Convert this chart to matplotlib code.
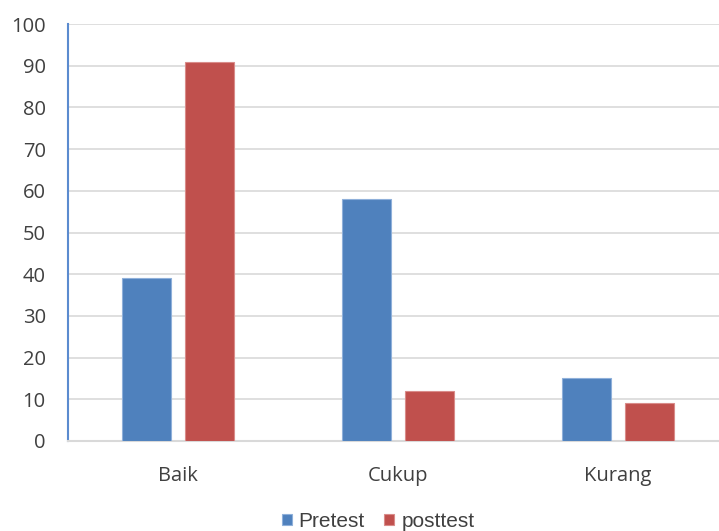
import matplotlib
matplotlib.use("Agg")
import matplotlib.pyplot as plt
import numpy as np

categories = ["Baik", "Cukup", "Kurang"]
pretest = [39, 58, 15]
posttest = [91, 12, 9]
yticks = [0, 10, 20, 30, 40, 50, 60, 70, 80, 90, 100]

W, H = 719, 531
fig = plt.figure(figsize=(W/100, H/100), dpi=100)
x0, x1 = 68, 728
ytop, ybot = 24, 441
ax = fig.add_axes([x0/W, 1 - ybot/H, (x1-x0)/W, (ybot-ytop)/H])

x = np.arange(len(categories))
bw = 0.223
off = 0.143
ax.bar(x - off, pretest, bw, color="#4F81BD", edgecolor="#8FB0DA", linewidth=0.8, label="Pretest", zorder=3)
ax.bar(x + off, posttest, bw, color="#C0504D", edgecolor="#D98C8A", linewidth=0.8, label="posttest", zorder=3)

ax.set_xlim(-0.5, 2.5)
ax.set_ylim(0, 100)
ax.set_yticks(yticks)
ax.set_xticks(x)
ax.set_xticklabels(categories, fontfamily="Open Sans", fontsize=14.5, color="#404040")
for lab in ax.get_yticklabels():
    lab.set_fontfamily("Open Sans")
    lab.set_fontsize(14.5)
    lab.set_color("#404040")
ax.tick_params(axis="both", length=0)
ax.tick_params(axis="y", pad=16)
ax.tick_params(axis="x", pad=18)
ax.grid(axis="y", color="#D9D9D9", linewidth=1.2, zorder=0)
for s in ["top", "right"]:
    ax.spines[s].set_visible(False)
ax.spines["left"].set_color("#5B8BCF")
ax.spines["left"].set_linewidth(1.5)
ax.spines["bottom"].set_color("#D9D9D9")
ax.spines["bottom"].set_linewidth(1.5)

leg = fig.legend(loc="center", bbox_to_anchor=(378/W, 1 - 521.5/H), ncol=2, frameon=False,
                 prop={"family": "Liberation Sans", "size": 15}, handlelength=0.48, handleheight=0.48,
                 handletextpad=0.33, columnspacing=0.95, labelcolor="#404040",
                 borderpad=0, borderaxespad=0)

fig.savefig("out.png", dpi=100)
